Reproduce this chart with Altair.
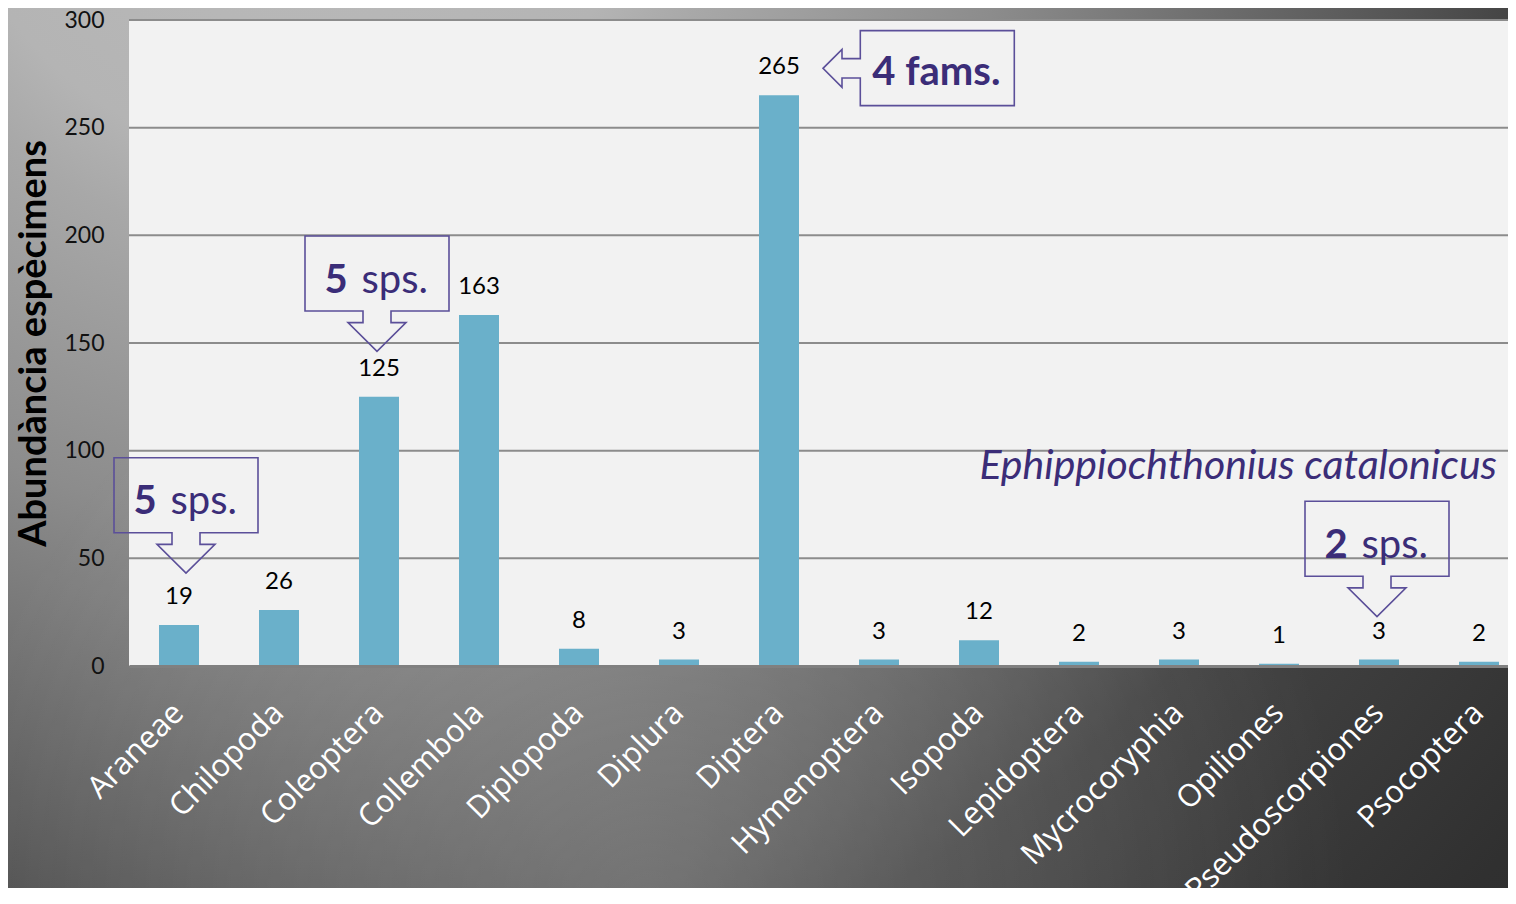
import altair as alt
import pandas as pd

# ---- data ----
categories = ["Araneae", "Chilopoda", "Coleoptera", "Collembola", "Diplopoda",
              "Diplura", "Diptera", "Hymenoptera", "Isopoda", "Lepidoptera",
              "Mycrocoryphia", "Opiliones", "Pseudoscorpiones", "Psocoptera"]
values = [19, 26, 125, 163, 8, 3, 265, 3, 12, 2, 3, 1, 3, 2]
y_ticks = [0, 50, 100, 150, 200, 250, 300]
y_title = "Abundància espècimens"
species_note = "Ephippiochthonius catalonicus"
species_anchor = "Pseudoscorpiones"

callout_cats = ["Araneae", "Coleoptera", "Pseudoscorpiones", "Diptera"]
callout_bold = ["5", "5", "2", "4 fams."]
callout_rest = ["sps.", "sps.", "sps.", ""]
callout_dir = ["down", "down", "down", "left"]

# ---- layout / style (not data) ----
PLOT_W, PLOT_H = 1400, 646
TOP = 12
BAR = "#6ab0ca"
PURPLE = "#3b2d78"
BOX = "#5b4f99"
tip_dx = [7, -2, -2, 44]
tip_dy = [-52, -45.5, -43, -27]

df = pd.DataFrame({"cat": categories, "val": values})
one = alt.InlineData(values=[{"k": 1}])

x_axis = alt.Axis(labelAngle=-45, labelAlign="right", labelBaseline="middle",
                  labelColor="white", labelFont="Open Sans", labelFontSize=31,
                  labelPadding=42, labelLimit=600, ticks=False, domainColor="#808080",
                  domainWidth=3, title=None, zindex=1, labelOverlap=False)
y_axis = alt.Axis(values=y_ticks, grid=False, ticks=False, domain=False,
                  labelPadding=25, labelFont="Lato", labelFontSize=23,
                  labelColor="#111111", title=y_title, titleFont="Lato",
                  titleFontSize=38, titleFontWeight="bold", titleColor="#000000",
                  titleAngle=270, titleBaseline="middle", titleAlign="center",
                  titleX=-95, titleY=PLOT_H / 2, zindex=1)

x_enc = alt.X("cat:N", sort=categories,
              scale=alt.Scale(domain=categories, paddingInner=0.6, paddingOuter=0.3),
              axis=x_axis)
y_enc = alt.Y("val:Q", scale=alt.Scale(domain=[0, 300]), axis=y_axis)

# background gradient (page-wide decoration)
bg = alt.Chart(one).mark_rect(
    fill=alt.RadialGradient(
        gradient="radial", x1=0.1765, y1=-0.1176, r1=0, x2=0.1765, y2=-0.1176, r2=1.0,
        stops=[alt.GradientStop(offset=0, color="#bcbcbc"),
               alt.GradientStop(offset=0.212, color="#b4b4b4"),
               alt.GradientStop(offset=0.263, color="#a8a8a8"),
               alt.GradientStop(offset=0.425, color="#8c8c8c"),
               alt.GradientStop(offset=0.565, color="#6a6a6a"),
               alt.GradientStop(offset=0.67, color="#525252"),
               alt.GradientStop(offset=0.725, color="#444444"),
               alt.GradientStop(offset=0.94, color="#303030"),
               alt.GradientStop(offset=1, color="#2e2e2e")])
).encode(x=alt.value(-129), x2=alt.value(-129 + 1700),
         y=alt.value(-18), y2=alt.value(-18 + 1700))

glow = alt.Chart(one).mark_rect(
    fill=alt.RadialGradient(
        gradient="radial", x1=0.5, y1=0.5, r1=0, x2=0.5, y2=0.5, r2=0.5,
        stops=[alt.GradientStop(offset=0, color="rgba(255,255,255,0.2)"),
               alt.GradientStop(offset=0.5, color="rgba(255,255,255,0.1)"),
               alt.GradientStop(offset=1, color="rgba(255,255,255,0)")])
).encode(x=alt.value(-179), x2=alt.value(-179 + 1400),
         y=alt.value(186), y2=alt.value(186 + 1400))

plot_bg = alt.Chart(one).mark_rect(fill="#f2f2f2").encode(
    x=alt.value(0), x2=alt.value(PLOT_W), y=alt.value(0), y2=alt.value(PLOT_H))

grid = alt.Chart(pd.DataFrame({"val": y_ticks[1:]})).mark_rule(
    color="#8c8c8c", strokeWidth=2).encode(y=y_enc)

bars = alt.Chart(df).mark_bar(color=BAR).encode(x=x_enc, y=y_enc)

labels = alt.Chart(df).mark_text(dy=-28, baseline="middle", font="Lato",
                                 fontSize=24, color="#000000").encode(
    x=x_enc, y=y_enc, text="val:Q")

layers = [bg, glow, plot_bg, grid, bars, labels]


def fmt(pts):
    return " ".join(f"{'M' if i == 0 else 'L'}{x:.1f} {y:.1f}" for i, (x, y) in enumerate(pts)) + " Z"


for cat, bold, rest, d, tx, ty in zip(callout_cats, callout_bold, callout_rest,
                                      callout_dir, tip_dx, tip_dy):
    row = pd.DataFrame({"cat": [cat], "val": [values[categories.index(cat)]]})
    if d == "down":
        rel = [(-72, -115.3), (72, -115.3), (72, -40.3), (14, -40.3), (14, -28.7),
               (29, -28.7), (0, 0), (-29, -28.7), (-14, -28.7), (-14, -40.3),
               (-72, -40.3)]
        bx, by = tx - 72, ty - 115.3
        bold_dx, bold_dy, bold_align = bx + 42.7, by + 56.5, "right"
        rest_dx = bx + 56.5
    else:
        rel = [(37.3, -37.7), (191.3, -37.7), (191.3, 37.3), (37.3, 37.3),
               (37.3, 9.7), (19, 9.7), (19, 18.9), (0, 0), (19, -18.9),
               (19, -9.7), (37.3, -9.7)]
        bx, by = tx + 37.3, ty - 37.7
        bold_dx, bold_dy, bold_align = bx + 12, by + 54.3, "left"
        rest_dx = bx + 150
    path = fmt([(x + tx, y + ty) for x, y in rel])
    layers.append(alt.Chart(row).mark_point(
        shape=path, size=4, filled=False, color=BOX, stroke=BOX,
        strokeWidth=1.6, opacity=1).encode(x=x_enc, y=y_enc))
    layers.append(alt.Chart(row).mark_text(
        text=bold, align=bold_align, baseline="alphabetic", dx=bold_dx, dy=bold_dy,
        font="Lato", fontSize=40, fontWeight="bold", color=PURPLE).encode(x=x_enc, y=y_enc))
    if rest:
        layers.append(alt.Chart(row).mark_text(
            text=rest, align="left", baseline="alphabetic", dx=rest_dx, dy=bold_dy,
            font="Lato", fontSize=40, color=PURPLE).encode(x=x_enc, y=y_enc))

sp_row = pd.DataFrame({"cat": [species_anchor],
                       "val": [values[categories.index(species_anchor)]]})
layers.append(alt.Chart(sp_row).mark_text(
    text=species_note, align="right", baseline="alphabetic", dx=118, dy=-181,
    font="Lato", fontStyle="italic", fontSize=41, color=PURPLE).encode(x=x_enc, y=y_enc))

chart = alt.layer(*layers).properties(
    width=PLOT_W, height=PLOT_H,
    autosize=alt.AutoSizeParams(type="none"),
    padding={"left": 121, "top": TOP, "right": -21, "bottom": 880 - TOP - PLOT_H},
).configure_view(strokeWidth=0)

chart.save("out.html", embed_options={"renderer": "svg", "actions": False})
